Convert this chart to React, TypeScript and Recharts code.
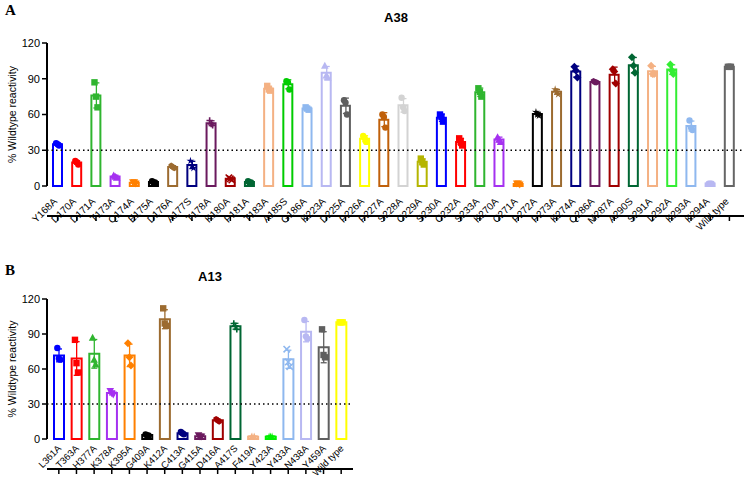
import React from 'react';
import {
  ComposedChart,
  Bar,
  Scatter,
  XAxis,
  YAxis,
  Cell,
  ReferenceLine,
} from 'recharts';

// Panel A: A38 reactivity per mutant (% of wild type), three replicates each
const a38Labels = [
  'Y168A', 'D170A', 'D171A', 'T173A', 'Q174A', 'E175A', 'D176A', 'A177S', 'T178A',
  'K180A', 'P181A', 'T183A', 'A185S', 'G186A', 'K223A', 'D225A', 'P226A', 'P227A',
  'S228A', 'C229A', 'S230A', 'C232A', 'S233A', 'K270A', 'C271A', 'P272A', 'P273A',
  'K274A', 'Q286A', 'M287A', 'A290S', 'S291A', 'L292A', 'K293A', 'K294A', 'Wild type',
];
const a38Rep1 = [36, 21, 87, 9, 3, 4, 17, 21, 55, 7, 4, 84, 88, 66, 101, 72, 42, 60, 74, 23, 60, 40, 82, 41, 2, 62, 81, 100, 88, 98, 108, 101, 102, 55, 2, 100];
const a38Rep2 = [35, 20, 75, 8, 3, 3, 16, 17, 52, 6, 3, 81, 87, 65, 93, 70, 40, 58, 66, 20, 58, 37, 79, 39, 2, 60, 79, 97, 87, 96, 101, 94, 97, 49, 2, 100];
const a38Rep3 = [34, 18, 66, 7, 2, 3, 15, 15, 51, 5, 3, 80, 81, 64, 91, 60, 37, 49, 63, 18, 54, 34, 75, 37, 1, 59, 77, 91, 87, 86, 95, 94, 94, 47, 2, 100];
const a38Colors = [
  '#0000ff', '#ff0000', '#2fb52f', '#a531f0', '#ff8000', '#000000', '#9c6b30', '#00007f', '#6b1a5e',
  '#a00000', '#006633', '#f4b183', '#00cc00', '#8fb8ef', '#b8b8f2', '#5f5f5f', '#ffff00', '#c0600a',
  '#d3d3d3', '#b5b500', '#0000ff', '#ff0000', '#2fb52f', '#a531f0', '#ff8000', '#000000', '#9c6b30',
  '#00007f', '#6b1a5e', '#a00000', '#006633', '#f4b183', '#33ee33', '#8fb8ef', '#b8b8f2', '#666666',
];
const a38Shapes = [
  'circle', 'circle', 'square', 'triangle', 'triangleDown', 'circle', 'hexagon', 'star', 'plus',
  'cross', 'circle', 'square', 'circle', 'square', 'triangle', 'circle', 'circle', 'circle',
  'circle', 'square', 'square', 'square', 'square', 'triangle', 'triangleDown', 'star', 'star',
  'diamond', 'hexagon', 'diamond', 'diamond', 'diamond', 'diamond', 'circle', 'circle', 'square',
];

// Panel B: A13
const a13Labels = [
  'L361A', 'T363A', 'H377A', 'K378A', 'K395A', 'G409A', 'K412A', 'C413A', 'G415A',
  'D416A', 'A417S', 'F419A', 'Y423A', 'Y433A', 'N438A', 'Y459A', 'Wild type',
];
const a13Rep1 = [78, 85, 87, 41, 82, 4, 112, 6, 3, 17, 99, 2, 2, 77, 102, 94, 100];
const a13Rep2 = [69, 65, 68, 39, 70, 3, 99, 5, 2, 16, 97, 2, 2, 66, 88, 72, 100];
const a13Rep3 = [68, 57, 64, 38, 63, 3, 97, 4, 2, 15, 94, 2, 2, 62, 86, 70, 100];
const a13Colors = [
  '#0000ff', '#ff0000', '#2fb52f', '#a531f0', '#ff8000', '#000000', '#9c6b30', '#00007f', '#6b1a5e',
  '#a00000', '#006633', '#f4b183', '#00ee00', '#8fb8ef', '#b8b8f2', '#5f5f5f', '#ffff00',
];
const a13Shapes = [
  'circle', 'square', 'triangle', 'triangleDown', 'diamond', 'circle', 'square', 'circle', 'triangleDown',
  'hexagon', 'plus', 'star', 'star', 'cross', 'circle', 'square', 'square',
];

const yTicks = [0, 30, 60, 90, 120];
const cutoff = 30;

const FONT = "Arial, 'Liberation Sans', sans-serif";
const PLOT_TOP = 43;

type Row = {
  name: string;
  color: string;
  shape: string;
  rep1: number;
  rep2: number;
  rep3: number;
  mean: number;
  err: [number, number];
};

const buildRows = (
  labels: string[], colors: string[], shapes: string[],
  r1: number[], r2: number[], r3: number[],
): Row[] =>
  labels.map((name, i) => {
    const reps = [r1[i], r2[i], r3[i]];
    const mean = reps.reduce((s, v) => s + v, 0) / reps.length;
    const sd = Math.sqrt(reps.reduce((s, v) => s + (v - mean) ** 2, 0) / (reps.length - 1));
    return {
      name, color: colors[i], shape: shapes[i],
      rep1: r1[i], rep2: r2[i], rep3: r3[i],
      mean, err: [Math.max(0, mean - sd), mean + sd],
    };
  });

const a38Rows = buildRows(a38Labels, a38Colors, a38Shapes, a38Rep1, a38Rep2, a38Rep3);
const a13Rows = buildRows(a13Labels, a13Colors, a13Shapes, a13Rep1, a13Rep2, a13Rep3);

// replicate symbols, Prism style
const Marker = ({ cx, cy, shape, color }: { cx: number; cy: number; shape: string; color: string }) => {
  const r = 3.2;
  switch (shape) {
    case 'square':
      return <rect x={cx - r} y={cy - r} width={r * 2} height={r * 2} fill={color} />;
    case 'triangle':
      return <polygon points={`${cx},${cy - r - 0.6} ${cx + r + 0.6},${cy + r} ${cx - r - 0.6},${cy + r}`} fill={color} />;
    case 'triangleDown':
      return <polygon points={`${cx},${cy + r + 0.6} ${cx + r + 0.6},${cy - r} ${cx - r - 0.6},${cy - r}`} fill={color} />;
    case 'diamond':
      return <polygon points={`${cx},${cy - r - 0.8} ${cx + r + 0.8},${cy} ${cx},${cy + r + 0.8} ${cx - r - 0.8},${cy}`} fill={color} />;
    case 'hexagon': {
      const pts = [0, 1, 2, 3, 4, 5]
        .map((k) => {
          const a = (Math.PI / 3) * k + Math.PI / 6;
          return `${cx + r * Math.cos(a)},${cy + r * Math.sin(a)}`;
        })
        .join(' ');
      return <polygon points={pts} fill={color} />;
    }
    case 'star': {
      const pts = Array.from({ length: 10 }, (_, k) => {
        const rr = k % 2 === 0 ? r + 1 : r * 0.45;
        const a = (Math.PI / 5) * k - Math.PI / 2;
        return `${cx + rr * Math.cos(a)},${cy + rr * Math.sin(a)}`;
      }).join(' ');
      return <polygon points={pts} fill={color} />;
    }
    case 'plus':
      return (
        <path d={`M${cx - r},${cy}H${cx + r}M${cx},${cy - r}V${cy + r}`} stroke={color} strokeWidth={1.6} fill="none" />
      );
    case 'cross':
      return (
        <path d={`M${cx - r},${cy - r}L${cx + r},${cy + r}M${cx + r},${cy - r}L${cx - r},${cy + r}`} stroke={color} strokeWidth={1.6} fill="none" />
      );
    default:
      return <circle cx={cx} cy={cy} r={r} fill={color} />;
  }
};

// mean ± SD whisker drawn from the range bar geometry
const Whisker = (props: any) => {
  const { x, y, width, height, payload } = props;
  if (x == null || y == null) return null;
  const mid = x + width / 2;
  return (
    <g stroke={payload.color} strokeWidth={1.3}>
      <line x1={mid} x2={mid} y1={y} y2={y + height} />
      <line x1={x} x2={x + width} y1={y} y2={y} />
      <line x1={x} x2={x + width} y1={y + height} y2={y + height} />
    </g>
  );
};

// slanted category label; its end point is placed relative to the axis line
const XTick = (props: any) => {
  const { x, payload, fontSize, axisY, ox, oy } = props;
  return (
    <g transform={`translate(${x + ox},${axisY + oy})`}>
      <text x={0} y={0} textAnchor="end" transform="rotate(-45)" fontSize={fontSize} fill="#000" fontFamily={FONT}>
        {payload.value}
      </text>
    </g>
  );
};

const jitter = [-1.5, 0, 1.5];

const Panel = ({
  rows, width, height, plotHeight, pad, barSize, right, labelSize, labelOffset,
}: {
  rows: Row[]; width: number; height: number; plotHeight: number;
  pad: { left: number; right: number }; barSize: number; right: number;
  labelSize: number; labelOffset: [number, number];
}) => (
  <ComposedChart
    width={width}
    height={height}
    data={rows}
    margin={{ top: PLOT_TOP, right, left: 7, bottom: 0 }}
  >
    <XAxis
      xAxisId="main"
      dataKey="name"
      interval={0}
      height={height - PLOT_TOP - plotHeight}
      padding={pad}
      tick={(p: any) => (
        <XTick {...p} fontSize={labelSize} axisY={PLOT_TOP + plotHeight} ox={labelOffset[0]} oy={labelOffset[1]} />
      )}
      axisLine={{ stroke: '#000', strokeWidth: 2 }}
      tickLine={{ stroke: '#000', strokeWidth: 1.5 }}
      tickSize={5}
    />
    <XAxis xAxisId="err" dataKey="name" hide padding={pad} />
    <YAxis
      domain={[0, 120]}
      ticks={yTicks}
      width={40}
      axisLine={{ stroke: '#000', strokeWidth: 2 }}
      tickLine={{ stroke: '#000', strokeWidth: 1.5 }}
      tickSize={5}
      tick={{ fontSize: 11, fill: '#000', fontFamily: FONT }}
      label={{
        value: '% Wildtype reactivity',
        angle: -90,
        position: 'insideLeft',
        offset: 5,
        style: { textAnchor: 'middle', fontSize: 10.5, fill: '#000', fontFamily: FONT },
      }}
    />
    <ReferenceLine xAxisId="main" y={cutoff} stroke="#000" strokeWidth={1.3} strokeDasharray="1.5 3" />
    <Bar xAxisId="main" dataKey="mean" barSize={barSize} fill="#fff" strokeWidth={2} isAnimationActive={false}>
      {rows.map((r) => (
        <Cell key={r.name} stroke={r.color} fill="#fff" />
      ))}
    </Bar>
    <Bar xAxisId="err" dataKey="err" barSize={6} shape={(p: any) => <Whisker {...p} />} isAnimationActive={false} />
    {(['rep1', 'rep2', 'rep3'] as const).map((k, i) => (
      <Scatter
        key={k}
        xAxisId="main"
        dataKey={k}
        isAnimationActive={false}
        shape={(p: any) => (
          <Marker cx={p.cx + jitter[i]} cy={p.cy} shape={p.payload.shape} color={p.payload.color} />
        )}
      />
    ))}
  </ComposedChart>
);

const panelLetter: React.CSSProperties = {
  position: 'absolute',
  fontFamily: "'Times New Roman', 'Liberation Serif', serif",
  fontWeight: 'bold',
  fontSize: 15,
};

const panelTitle: React.CSSProperties = {
  position: 'absolute',
  fontFamily: FONT,
  fontWeight: 'bold',
  fontSize: 13,
  transform: 'translateX(-50%)',
};

export default function App() {
  return (
    <div style={{ position: 'absolute', left: 0, top: 0, width: 750, height: 486, background: '#fff' }}>
      <div style={{ position: 'absolute', left: 0, top: 0 }}>
        <Panel
          rows={a38Rows} width={750} height={250} plotHeight={143}
          pad={{ left: 1, right: 5 }} barSize={9} right={6}
          labelSize={10} labelOffset={[0, 16]}
        />
      </div>
      <div style={{ position: 'absolute', left: 0, top: 256 }}>
        <Panel
          rows={a13Rows} width={360} height={230} plotHeight={140}
          pad={{ left: 3, right: 3 }} barSize={10} right={7}
          labelSize={9.5} labelOffset={[3, 10]}
        />
      </div>
      <div style={{ ...panelLetter, left: 5, top: 2 }}>A</div>
      <div style={{ ...panelTitle, left: 396, top: 10 }}>A38</div>
      <div style={{ ...panelLetter, left: 5, top: 262 }}>B</div>
      <div style={{ ...panelTitle, left: 210, top: 269 }}>A13</div>
    </div>
  );
}
